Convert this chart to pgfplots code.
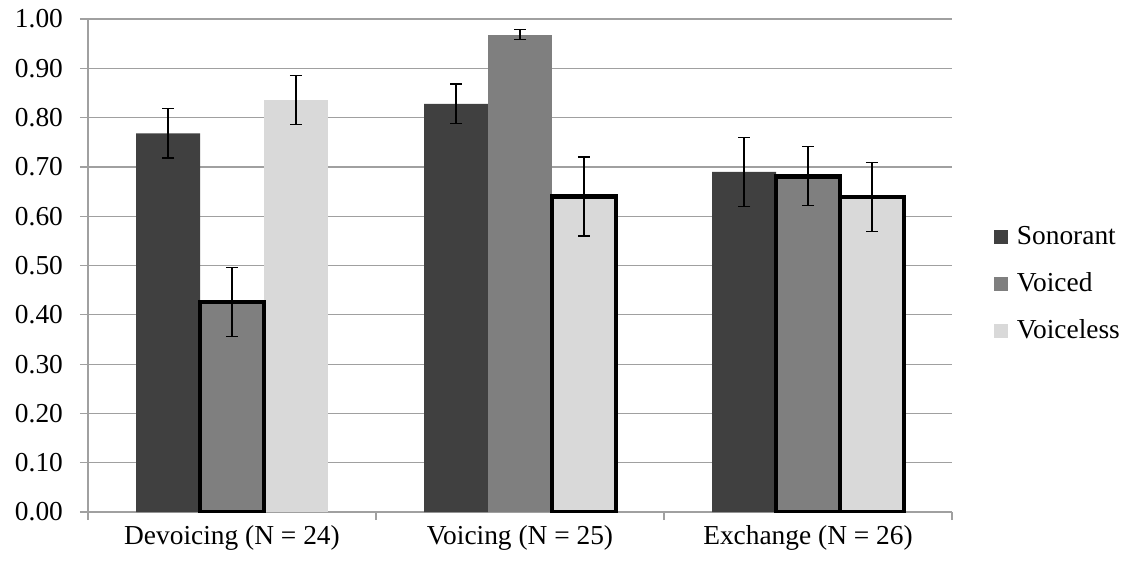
\documentclass[border=0pt]{standalone}
\usepackage{pgfplots}
\pgfplotsset{compat=1.18}
\usepackage{fontspec}
\setmainfont{Liberation Serif}
\definecolor{cSon}{HTML}{404040}
\definecolor{cVcd}{HTML}{7F7F7F}
\definecolor{cVcl}{HTML}{D9D9D9}
\definecolor{gridc}{HTML}{A0A0A0}
\begin{document}
\begin{tikzpicture}[font=\fontsize{13.7}{16}\selectfont]
\path[use as bounding box] (-44pt,-25.5pt) rectangle (523.5pt,256pt);
\begin{axis}[
  scale only axis, width=432pt, height=246.5pt,
  at={(0,0)}, anchor=south west,
  xmin=-0.5, xmax=2.5, ymin=0, ymax=1,
  axis x line*=bottom, axis y line*=left,
  axis line style={gridc, line width=0.6pt, -},
  ytick={0,0.1,0.2,0.3,0.4,0.5,0.6,0.7,0.8,0.9,1.0},
  yticklabels={0.00,0.10,0.20,0.30,0.40,0.50,0.60,0.70,0.80,0.90,1.00},
  ymajorgrids, major grid style={gridc, line width=0.6pt},
  tick style={gridc, line width=0.6pt},
  tick align=outside, major tick length=4pt,
  yticklabel style={xshift=-5pt},
  xtick={-0.5,0.5,1.5,2.5}, xticklabels={},
  extra x ticks={0,1,2},
  extra x tick labels={Devoicing (N = 24), Voicing (N = 25), Exchange (N = 26)},
  extra x tick style={major tick length=0pt, grid=none, xticklabel style={yshift=-3pt}},
  ybar, bar width=0.2222,
  error bars/y dir=both, error bars/y explicit,
  error bars/error bar style={black, line width=0.6pt},
  error bars/error mark options={rotate=90, black, line width=0.6pt, mark size=3pt},
  legend image code/.code={\fill[#1] (0pt,-3.5pt) rectangle (7pt,3.5pt); \path (9.5pt,0pt);},
  legend cell align=left,
  legend style={draw=none, fill=none, at={(rel axis cs:1.048,0.4625)}, anchor=west,
    inner sep=0pt, row sep=8.5pt, nodes={inner sep=2pt}},
]
% Sonorant
\addplot[fill=cSon, draw=none, bar shift=-0.2222] coordinates {
  (0,0.768) +- (0,0.050)
  (1,0.828) +- (0,0.040)
  (2,0.690) +- (0,0.070)
};
\addlegendentry{Sonorant}
% Voiced (plain)
\addplot[fill=cVcd, draw=none, bar shift=0] coordinates {
  (1,0.968) +- (0,0.010)
};
\addlegendentry{Voiced}
% Voiceless (plain)
\addplot[fill=cVcl, draw=none, bar shift=0.2222] coordinates {
  (0,0.836) +- (0,0.050)
};
\addlegendentry{Voiceless}
% Voiced (bordered)
\addplot[forget plot, fill=cVcd, draw=black, line width=2.25pt, bar shift=0] coordinates {
  (0,0.426) +- (0,0.070)
  (2,0.681) +- (0,0.060)
};
% Voiceless (bordered)
\addplot[forget plot, fill=cVcl, draw=black, line width=2.25pt, bar shift=0.2222] coordinates {
  (1,0.640) +- (0,0.080)
  (2,0.639) +- (0,0.070)
};
\end{axis}
\end{tikzpicture}
\end{document}
